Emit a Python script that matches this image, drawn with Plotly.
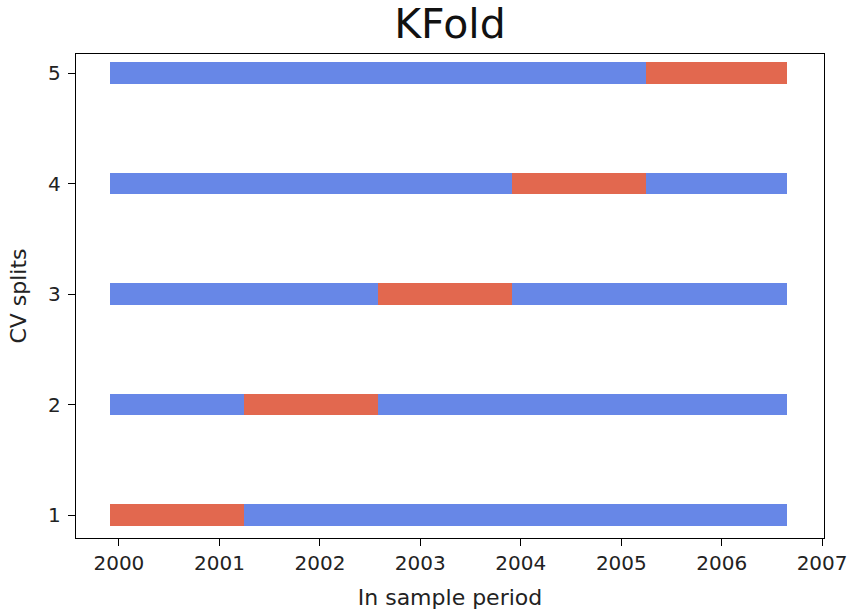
import pandas as pd
import plotly.graph_objects as go

# ---- data ----
splits = [1, 2, 3, 4, 5]
fold_edges = ["1999-12-01", "2001-04-01", "2002-08-01", "2003-12-01", "2005-04-01", "2006-08-28"]
year_ticks = ["2000", "2001", "2002", "2003", "2004", "2005", "2006", "2007"]
title_text = "KFold"
x_label = "In sample period"
y_label = "CV splits"

train_color = "#6787E7"
test_color = "#E2684F"

edges = pd.to_datetime(fold_edges)

train_y, train_base, train_len = [], [], []
test_y, test_base, test_len = [], [], []
for k in splits:
    for j in range(len(edges) - 1):
        start, end = edges[j], edges[j + 1]
        dur = (end - start).total_seconds() * 1000.0
        if j == k - 1:
            test_y.append(k); test_base.append(start.strftime("%Y-%m-%d")); test_len.append(dur)
        else:
            train_y.append(k); train_base.append(start.strftime("%Y-%m-%d")); train_len.append(dur)

fig = go.Figure()
fig.add_trace(go.Bar(y=train_y, x=train_len, base=train_base, orientation="h",
                     width=0.196, marker=dict(color=train_color, line=dict(width=0)),
                     showlegend=False, name="train"))
fig.add_trace(go.Bar(y=test_y, x=test_len, base=test_base, orientation="h",
                     width=0.196, marker=dict(color=test_color, line=dict(width=0)),
                     showlegend=False, name="test"))

font_family = "DejaVu Sans"
fig.update_layout(
    width=851, height=610,
    barmode="overlay",
    bargap=0,
    plot_bgcolor="white", paper_bgcolor="white",
    margin=dict(l=76, r=27, t=54, b=72, autoexpand=False),
    font=dict(family=font_family, color="#222222", size=20),
    title=dict(text=title_text, x=0.5, xanchor="center", y=0.962, yanchor="middle",
               xref="paper", font=dict(size=41, color="#111111", family=font_family)),
)
fig.update_xaxes(
    type="date",
    range=["1999-07-29", "2007-01-08"],
    tickvals=[f"{y}-01-01" for y in year_ticks],
    ticktext=year_ticks,
    showgrid=False, zeroline=False, automargin=False,
    showline=True, linecolor="black", linewidth=1.3, mirror=True,
    ticks="outside", ticklen=7, tickwidth=1.2, tickcolor="black",
    ticklabeloverflow="allow",
    tickfont=dict(size=20),
    title=dict(text=x_label, font=dict(size=22)),
)
fig.update_yaxes(
    range=[0.792, 5.172],
    tickvals=splits,
    ticktext=[str(s) for s in splits],
    showgrid=False, zeroline=False, automargin=False,
    showline=True, linecolor="black", linewidth=1.3, mirror=True,
    ticks="outside", ticklen=7, tickwidth=1.2, tickcolor="black",
    ticklabelstandoff=3,
    tickfont=dict(size=20),
    title=dict(text=y_label, font=dict(size=22)),
)

fig.write_html(
    "out.html",
    config={"displayModeBar": False},
    post_script="document.body.style.margin='0px'; document.body.style.overflow='hidden';",
)
